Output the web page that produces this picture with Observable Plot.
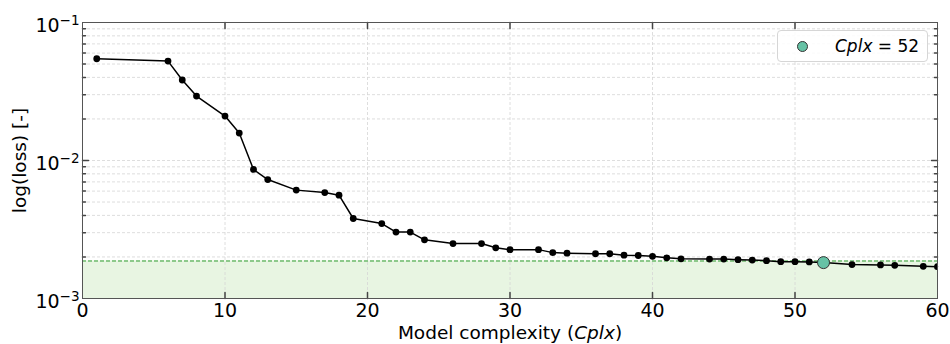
<!DOCTYPE html>
<html>
<head>
<meta charset="utf-8">
<script src="https://cdn.jsdelivr.net/npm/d3@7"></script>
<script src="https://cdn.jsdelivr.net/npm/@observablehq/plot@0.6"></script>
<style>
  body { margin: 0; background: #fff; font-family: "DejaVu Sans", sans-serif; }
  #wrap { position: relative; width: 950px; height: 344px; }
  #wrap svg g[aria-label="x-axis tick label"] text,
  #wrap svg g[aria-label="y-axis tick label"] text { font-size: 19px; font-family: "DejaVu Sans"; fill: #000; }
  #wrap svg g[aria-label="x-axis label"] text { font-size: 18.5px; font-family: "DejaVu Sans"; fill: #000; }
  #wrap svg g[aria-label="y-axis label"] text { font-size: 18.5px; font-family: "DejaVu Sans"; fill: #000; }
  #legend { position: absolute; left: 777px; top: 30px; width: 151px; height: 32px;
    border: 1px solid #d6d6d6; border-radius: 4px; background: rgba(255,255,255,0.85);
    box-sizing: border-box; font-family: "DejaVu Sans", sans-serif; font-size: 17px; color: #000; }
  #legend .mk { position: absolute; left: 19px; top: 9.5px; width: 11px; height: 11px; border-radius: 50%;
    background: #66c2a5; border: 1px solid #333; box-sizing: border-box; }
  #legend .tx { position: absolute; left: 57px; top: 5px; line-height: 20px; white-space: nowrap; }
</style>
</head>
<body>
<div id="wrap"></div>
<script>
// ---- data ----
const cplx = [1,6,7,8,10,11,12,13,15,17,18,19,21,22,23,24,26,28,29,30,32,33,34,36,37,38,39,40,41,42,44,45,46,47,48,49,50,51,52,54,56,57,59,60];
const loss = [0.0546,0.0525,0.0383,0.0293,0.0210,0.0158,0.00861,0.00728,0.00610,0.00586,0.00561,0.00380,0.00349,0.00303,0.00303,0.00266,0.00250,0.00250,0.00233,0.00226,0.00226,0.00215,0.00213,0.00211,0.00211,0.00206,0.00205,0.00202,0.00197,0.00194,0.00193,0.00193,0.00191,0.00190,0.00188,0.00185,0.00185,0.00184,0.00182,0.00176,0.00175,0.00174,0.00171,0.00170];
const selectedCplx = 52;
const threshold = 0.00187;
const xTicks = [0,10,20,30,40,50,60];
const xInner = [10,20,30,40,50];
const yMajor = [1e-3,1e-2,1e-1];
const yMinor = [2e-3,3e-3,4e-3,5e-3,6e-3,7e-3,8e-3,9e-3,2e-2,3e-2,4e-2,5e-2,6e-2,7e-2,8e-2,9e-2];
const xDomain = [0,60];
const yDomain = [1e-3,1e-1];
const xLabelPre = "Model complexity (", xLabelIt = "Cplx", xLabelPost = ")";
const yLabel = "log(loss) [-]";

const data = cplx.map((c,i) => ({c, l: loss[i]}));
const selPt = data.filter(d => d.c === selectedCplx);

const tickStroke = "#444";
const gridStyle = {stroke: "#d6d6d6", strokeDasharray: "3,2", strokeWidth: 0.8};

const plot = Plot.plot({
  width: 950, height: 344,
  marginLeft: 82, marginRight: 13, marginTop: 22, marginBottom: 46,
  style: {fontFamily: "DejaVu Sans", fontSize: "18px", background: "#fff", color: "#000", overflow: "visible"},
  x: {domain: xDomain},
  y: {type: "log", domain: yDomain},
  marks: [
    Plot.areaY(xDomain, {x: d => d, y1: yDomain[0], y2: threshold, fill: "#e8f5e2"}),
    Plot.ruleX(xInner, {...gridStyle}),
    Plot.ruleY([...yMinor, 1e-2], {...gridStyle}),
    Plot.ruleY([threshold], {stroke: "#2e9a2e", strokeDasharray: "4,2", strokeWidth: 1}),
    Plot.line(data, {x: "c", y: "l", stroke: "#000", strokeWidth: 1.5}),
    Plot.dot(data, {x: "c", y: "l", r: 3.4, fill: "#000", clip: true}),
    Plot.dot(selPt, {x: "c", y: "l", r: 6, fill: "#66c2a5", stroke: "#333", strokeWidth: 1}),
    // inward ticks
    Plot.vector(xInner, {x: d => d, y: yDomain[0], length: 6, rotate: 0, anchor: "start", shape: "spike", r: 0, stroke: tickStroke, fill: "none"}),
    Plot.vector(xInner, {x: d => d, y: yDomain[1], length: 6, rotate: 180, anchor: "start", shape: "spike", r: 0, stroke: tickStroke, fill: "none"}),
    Plot.vector([1e-2], {x: xDomain[0], y: d => d, length: 6, rotate: 90, anchor: "start", shape: "spike", r: 0, stroke: tickStroke, fill: "none"}),
    Plot.vector([1e-2], {x: xDomain[1], y: d => d, length: 6, rotate: -90, anchor: "start", shape: "spike", r: 0, stroke: tickStroke, fill: "none"}),
    Plot.vector(yMinor, {x: xDomain[0], y: d => d, length: 3, rotate: 90, anchor: "start", shape: "spike", r: 0, stroke: tickStroke, fill: "none"}),
    Plot.vector(yMinor, {x: xDomain[1], y: d => d, length: 3, rotate: -90, anchor: "start", shape: "spike", r: 0, stroke: tickStroke, fill: "none"}),
    Plot.frame({stroke: "#555", strokeWidth: 1}),
    Plot.axisX({ticks: xTicks, tickSize: 0, tickPadding: 5, tickFormat: d => String(d),
      label: xLabelPre + xLabelIt + xLabelPost, labelAnchor: "center", labelOffset: 40}),
    Plot.axisY({ticks: yMajor, tickSize: 0, tickPadding: 3,
      tickFormat: d => "10^" + Math.round(Math.log10(d)),
      label: yLabel, labelAnchor: "center", labelOffset: 70})
  ]
});

document.getElementById("wrap").appendChild(plot);

// superscripts for y tick labels
d3.select(plot).selectAll('g[aria-label="y-axis tick label"] text').each(function() {
  const t = d3.select(this);
  const s = t.text();
  const parts = s.split("^");
  if (parts.length !== 2) return;
  t.text("");
  t.append("tspan").attr("dy", "0.18em").text(parts[0]);
  t.append("tspan").attr("dy", "-0.5em").style("font-size", "13.5px").text(parts[1].replace("-", "\u2212"));
});
// italic part of x label
d3.select(plot).selectAll('g[aria-label="x-axis label"] text').each(function() {
  const t = d3.select(this);
  t.text("");
  t.append("tspan").text(xLabelPre);
  t.append("tspan").attr("font-style", "italic").text(xLabelIt);
  t.append("tspan").text(xLabelPost);
});
d3.select(plot).selectAll('g[aria-label="y-axis label"] text').each(function() {
  d3.select(this).text(yLabel);
});

// legend
const lg = document.createElement("div");
lg.id = "legend";
lg.innerHTML = '<span class="mk"></span><span class="tx"><i>Cplx</i> = ' + selectedCplx + '</span>';
document.getElementById("wrap").appendChild(lg);
</script>
</body>
</html>
